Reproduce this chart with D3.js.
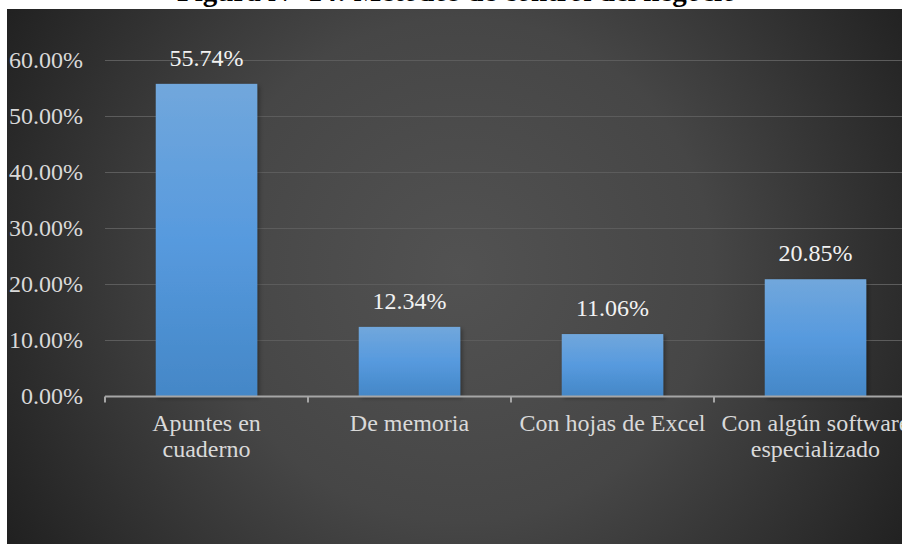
<!DOCTYPE html>
<html>
<head>
<meta charset="utf-8">
<script src="https://cdn.jsdelivr.net/npm/d3@7/dist/d3.min.js"></script>
<style>
  html, body { margin: 0; padding: 0; background: #ffffff; }
  svg { display: block; }
</style>
</head>
<body>
<svg id="chart" width="902" height="544"></svg>
<script>
// Chart data
const titleText = "Figura N° 14: Métodos de control del negocio";
const categories = [
  ["Apuntes en", "cuaderno"],
  ["De memoria"],
  ["Con hojas de Excel"],
  ["Con algún software", "especializado"]
];
const values = [55.74, 12.34, 11.06, 20.85];
const yTicks = [0, 10, 20, 30, 40, 50, 60];

const W = 902, H = 544;
const panel = { x: 7, y: 9 };
const plot = { left: 105, right: 917, top: 60, bottom: 396 };

const svg = d3.select("#chart");
const defs = svg.append("defs");

// Radial dark background
const bg = defs.append("radialGradient")
  .attr("id", "bgGrad")
  .attr("gradientUnits", "userSpaceOnUse")
  .attr("cx", 460).attr("cy", 270).attr("r", 560);
bg.append("stop").attr("offset", "0%").attr("stop-color", "#525252");
bg.append("stop").attr("offset", "45%").attr("stop-color", "#464646");
bg.append("stop").attr("offset", "100%").attr("stop-color", "#1c1c1c");

// Bar fill gradient
const barGrad = defs.append("linearGradient")
  .attr("id", "barGrad").attr("x1", 0).attr("y1", 0).attr("x2", 0).attr("y2", 1);
barGrad.append("stop").attr("offset", "0%").attr("stop-color", "#71a7dc");
barGrad.append("stop").attr("offset", "50%").attr("stop-color", "#579ade");
barGrad.append("stop").attr("offset", "100%").attr("stop-color", "#4487c7");

const shadow = defs.append("filter").attr("id", "barShadow")
  .attr("x", "-10%").attr("y", "-10%").attr("width", "130%").attr("height", "130%");
shadow.append("feDropShadow")
  .attr("dx", 2).attr("dy", 2).attr("stdDeviation", 2)
  .attr("flood-color", "#000").attr("flood-opacity", 0.35);

// Title (sits at the top edge)
svg.append("text")
  .attr("x", 177).attr("y", 1)
  .attr("font-family", "'Liberation Serif', 'Times New Roman', serif")
  .attr("font-size", 29).attr("font-weight", "bold")
  .attr("fill", "#000")
  .text(titleText);

// Panel
svg.append("rect")
  .attr("x", panel.x).attr("y", panel.y)
  .attr("width", W - panel.x).attr("height", H - panel.y)
  .attr("fill", "url(#bgGrad)");

const x = d3.scaleBand()
  .domain(d3.range(categories.length))
  .range([plot.left, plot.right])
  .paddingInner(0.5).paddingOuter(0.25);

const xOuter = d3.scaleBand()
  .domain(d3.range(categories.length))
  .range([plot.left, plot.right]);

const y = d3.scaleLinear().domain([0, 60]).range([plot.bottom, plot.top]);

const font = "'Liberation Serif', 'Times New Roman', serif";

// Gridlines
svg.append("g")
  .selectAll("line")
  .data(yTicks.filter(t => t > 0))
  .join("line")
  .attr("x1", plot.left).attr("x2", W)
  .attr("y1", d => Math.round(y(d)) + 0.5).attr("y2", d => Math.round(y(d)) + 0.5)
  .attr("stroke", "#5c5c5c").attr("stroke-width", 1);

// Y axis labels
const yAxis = svg.append("g")
  .attr("transform", `translate(83,0)`)
  .call(d3.axisLeft(y).tickValues(yTicks).tickSize(0).tickPadding(0)
    .tickFormat(d => d3.format(".2f")(d) + "%"));
yAxis.select(".domain").remove();
yAxis.selectAll("text")
  .attr("font-family", font).attr("font-size", 24)
  .attr("fill", "#d9d9d9").attr("dy", "0.3em");

// Bars
svg.append("g")
  .selectAll("rect")
  .data(values)
  .join("rect")
  .attr("x", (d, i) => x(i))
  .attr("width", x.bandwidth())
  .attr("y", d => y(d))
  .attr("height", d => y(0) - y(d))
  .attr("fill", "url(#barGrad)")
  .attr("filter", "url(#barShadow)");

// Value labels
svg.append("g")
  .selectAll("text")
  .data(values)
  .join("text")
  .attr("x", (d, i) => x(i) + x.bandwidth() / 2)
  .attr("y", d => y(d) - 18)
  .attr("text-anchor", "middle")
  .attr("font-family", font).attr("font-size", 24)
  .attr("fill", "#f2f2f2")
  .text(d => d3.format(".2f")(d) + "%");

// X axis line with boundary ticks
const xAxis = svg.append("g").attr("transform", `translate(0,${plot.bottom + 0.5})`);
xAxis.append("line")
  .attr("x1", plot.left).attr("x2", W)
  .attr("stroke", "#a6a6a6").attr("stroke-width", 2);
xAxis.selectAll("line.tick")
  .data(d3.range(categories.length + 1))
  .join("line")
  .attr("class", "tick")
  .attr("x1", i => i < categories.length ? xOuter(i) : plot.right)
  .attr("x2", i => i < categories.length ? xOuter(i) : plot.right)
  .attr("y1", 0).attr("y2", 6)
  .attr("stroke", "#a6a6a6").attr("stroke-width", 2);

// Category labels
const cat = svg.append("g")
  .selectAll("text")
  .data(categories)
  .join("text")
  .attr("x", (d, i) => xOuter(i) + xOuter.bandwidth() / 2)
  .attr("y", 431)
  .attr("text-anchor", "middle")
  .attr("font-family", font).attr("font-size", 24)
  .attr("fill", "#d9d9d9");
cat.each(function(lines, i) {
  const cx = xOuter(i) + xOuter.bandwidth() / 2;
  d3.select(this).selectAll("tspan")
    .data(lines)
    .join("tspan")
    .attr("x", cx)
    .attr("dy", (l, j) => j === 0 ? 0 : 26)
    .text(l => l);
});
</script>
</body>
</html>
